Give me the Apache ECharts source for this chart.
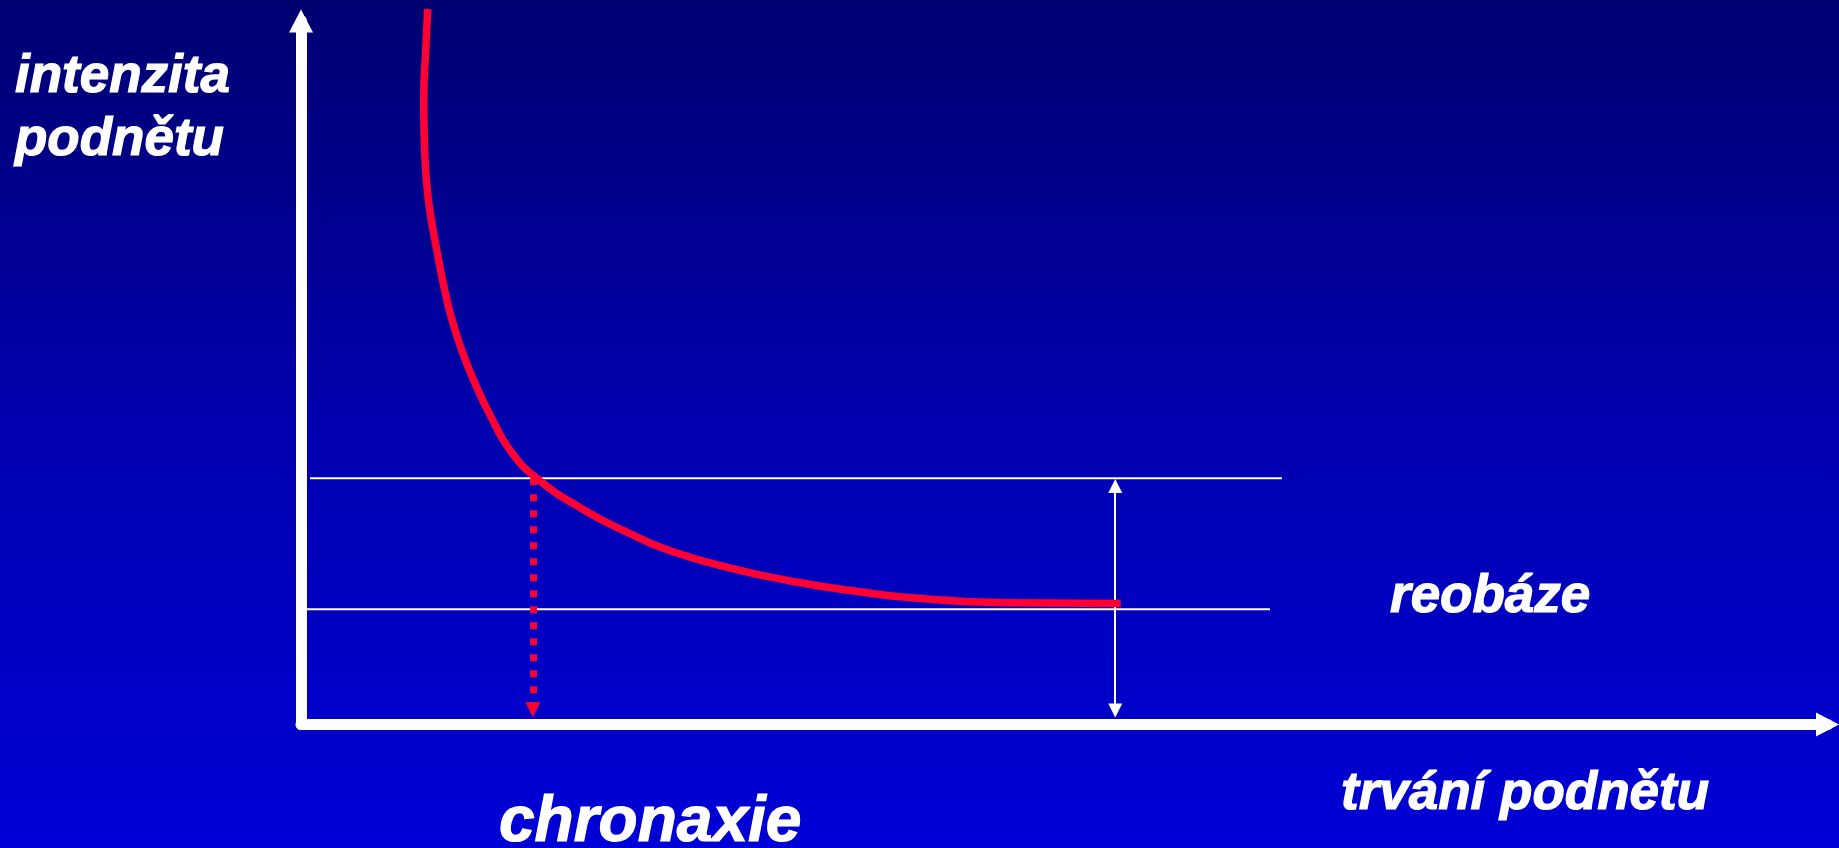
<!DOCTYPE html>
<html>
<head>
<meta charset="utf-8">
<script src="https://cdn.jsdelivr.net/npm/echarts@6/dist/echarts.min.js"></script>
<style>
html, body { margin: 0; padding: 0; overflow: hidden; background: #0000a0; }
#chart { width: 1839px; height: 848px; }
</style>
</head>
<body>
<div id="chart"></div>
<script>
// strength-duration curve (x: stimulus duration, y: stimulus intensity; arbitrary units 0..100)
const curveX = [8.30, 8.17, 8.04, 8.10, 8.23, 8.50, 8.89, 9.32, 9.83, 10.53, 11.40, 12.43, 13.69, 15.44, 18.54, 21.29, 24.04, 28.20, 32.34, 36.47, 40.61, 46.12, 53.70];
const curveY = [101.7, 95.9, 88.8, 81.7, 76.9, 72.2, 67.5, 62.7, 58.0, 53.2, 48.5, 43.8, 39.0, 35.0, 30.5, 27.4, 24.8, 22.2, 20.3, 18.9, 17.9, 17.3, 17.2];

// horizontal reference lines: 2x rheobase and rheobase
const doubleRheobaseY = 35.0;
const doubleRheobaseX = [0.59, 64.26];
const rheobaseY = 16.4;
const rheobaseX = [0.33, 63.48];

// chronaxie dropline (x, from y to y)
const chronaxieX = 15.19;
const chronaxieY = [35.0, 2.1];

// double-headed arrow showing the 2x rheobase level
const spanX = 53.34;
const spanY = [33.9, 2.0];

// texts
const yAxisTitle = ['intenzita', 'podnětu'];
const xAxisTitle = 'trvání podnětu';
const rheobaseLabel = 'reobáze';
const chronaxieLabel = 'chronaxie';

const chart = echarts.init(document.getElementById('chart'));

const font = { fontFamily: 'Liberation Sans, Arial, sans-serif', fontWeight: 'bold', fontStyle: 'italic',
  fill: '#ffffff', stroke: '#ffffff', lineWidth: 1.2 };
function txt(text, x, y, size) {
  return { type: 'text', x: x, y: y, z: 100,
    style: Object.assign({ text: text, fontSize: size, align: 'left', verticalAlign: 'middle' }, font) };
}

const axisCommon = {
  type: 'value', min: 0, max: 100,
  axisLabel: { show: false }, axisTick: { show: false }, splitLine: { show: false },
  axisLine: { show: true, symbol: ['none', 'triangle'], symbolSize: [24, 23],
    lineStyle: { color: '#ffffff', width: 11 } }
};

chart.setOption({
  animation: false,
  backgroundColor: { type: 'linear', x: 0, y: 0, x2: 0, y2: 1,
    colorStops: [{ offset: 0, color: '#000070' }, { offset: 0.5, color: '#0000ae' }, { offset: 1, color: '#0000d6' }] },
  grid: { left: 301, right: 11.5, top: 21, bottom: 123.5, containLabel: false, outerBoundsMode: 'none' },
  xAxis: axisCommon,
  yAxis: axisCommon,
  graphic: [
    txt(yAxisTitle[0], 15, 77, 53),
    txt(yAxisTitle[1], 15, 140, 53),
    txt(rheobaseLabel, 1390, 597, 53),
    txt(xAxisTitle, 1341, 794, 53),
    txt(chronaxieLabel, 499, 823, 64)
  ],
  series: [
    { type: 'line', name: '2x reobáze', showSymbol: false, symbol: 'none', silent: true, z: 2,
      lineStyle: { color: '#ffffff', width: 2 },
      data: [[doubleRheobaseX[0], doubleRheobaseY], [doubleRheobaseX[1], doubleRheobaseY]] },
    { type: 'line', name: 'reobáze', showSymbol: false, symbol: 'none', silent: true, z: 2,
      lineStyle: { color: '#ffffff', width: 2 },
      data: [[rheobaseX[0], rheobaseY], [rheobaseX[1], rheobaseY]] },
    { type: 'lines', coordinateSystem: 'cartesian2d', silent: true, z: 3,
      symbol: ['none', 'triangle'], symbolSize: 15,
      lineStyle: { color: '#ff0033', width: 7, type: [7, 9], opacity: 1 },
      data: [{ coords: [[chronaxieX, chronaxieY[0]], [chronaxieX, chronaxieY[1]]] }] },
    { type: 'lines', coordinateSystem: 'cartesian2d', silent: true, z: 3,
      symbol: ['triangle', 'triangle'], symbolSize: 14,
      lineStyle: { color: '#ffffff', width: 2, opacity: 1 },
      data: [{ coords: [[spanX, spanY[0]], [spanX, spanY[1]]] }] },
    { type: 'line', name: 'křivka', showSymbol: false, symbol: 'none', smooth: 0.5, clip: false, silent: true, z: 4,
      lineStyle: { color: '#ff0033', width: 7.5, cap: 'butt' },
      data: curveX.map((x, i) => [x, curveY[i]]) }
  ]
});
</script>
</body>
</html>
